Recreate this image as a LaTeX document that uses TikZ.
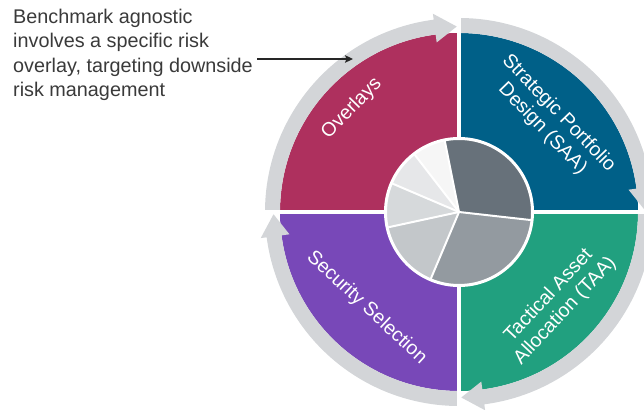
\documentclass[tikz,border=0pt]{standalone}
\usepackage{fontspec}
\setmainfont{Liberation Sans}
\usetikzlibrary{arrows.meta}
\definecolor{ovl}{RGB}{174,48,94}
\definecolor{saa}{RGB}{0,96,136}
\definecolor{taa}{RGB}{33,160,127}
\definecolor{sec}{RGB}{120,72,184}
\definecolor{bandc}{RGB}{211,213,216}
\definecolor{txt}{RGB}{58,58,58}
\definecolor{pA}{RGB}{103,113,122}
\definecolor{pB}{RGB}{147,154,160}
\definecolor{pC}{RGB}{195,199,202}
\definecolor{pD}{RGB}{214,217,219}
\definecolor{pE}{RGB}{230,231,233}
\definecolor{pF}{RGB}{246,246,246}
\newcommand\bandarrow[1]{%
  \pgfmathsetmacro\bs{#1}%
  \pgfmathsetmacro\bb{#1-90+7.5}%
  \pgfmathsetmacro\bt{#1-90+0.7}%
  \fill[bandc] (\bs:194) arc[start angle=\bs, end angle=\bb, radius=194]
    -- (\bb:200) -- (\bt:185.5) -- (\bb:171) -- (\bb:179)
    arc[start angle=\bb, end angle=\bs, radius=179] -- cycle;}
\tikzset{
  qlabel/.style={text=white, font=\fontsize{19.5}{22.5}\selectfont, align=center, inner sep=0},
  sep/.style={white, line width=3.5},
  pieline/.style={white, line width=2}
}
\begin{document}
\begin{tikzpicture}[x=1pt,y=1pt]
\useasboundingbox (0,0) rectangle (644,409);
\begin{scope}[shift={(459,197)}]
  % quadrants
  \fill[ovl] (0,0) -- (180:179) arc[start angle=180, end angle=90, radius=179] -- cycle;
  \fill[saa] (0,0) -- (90:179) arc[start angle=90, end angle=0, radius=179] -- cycle;
  \fill[taa] (0,0) -- (0:179) arc[start angle=0, end angle=-90, radius=179] -- cycle;
  \fill[sec] (0,0) -- (270:179) arc[start angle=270, end angle=180, radius=179] -- cycle;
  % bands with arrowheads
  \bandarrow{180}
  \bandarrow{90}
  \bandarrow{0}
  \bandarrow{270}
  % white separators
  \draw[sep] (0,-205) -- (0,205);
  \draw[sep] (-205,0) -- (205,0);
  % pie
  \fill[pA] (0,0) -- (101.3:73) arc[start angle=101.3, end angle=-6.4, radius=73] -- cycle;
  \fill[pB] (0,0) -- (-6.4:73) arc[start angle=-6.4, end angle=-112.9, radius=73] -- cycle;
  \fill[pC] (0,0) -- (-112.9:73) arc[start angle=-112.9, end angle=-167.8, radius=73] -- cycle;
  \fill[pD] (0,0) -- (192.2:73) arc[start angle=192.2, end angle=156.9, radius=73] -- cycle;
  \fill[pE] (0,0) -- (156.9:73) arc[start angle=156.9, end angle=127.7, radius=73] -- cycle;
  \fill[pF] (0,0) -- (127.7:73) arc[start angle=127.7, end angle=101.3, radius=73] -- cycle;
  \foreach \a in {101.3,-6.4,-112.9,192.2,156.9,127.7}{\draw[pieline] (0,0) -- (\a:73);}
  \draw[white, line width=3] (0,0) circle[radius=73.5];
  % labels
  \node[qlabel, rotate=46] (ovlab) at (136:149) {Overlays};
  \node[qlabel, rotate=-46] (saalab) at (44.8:129) {Strategic Portfolio\\Design (SAA)};
  \node[qlabel, rotate=47] (taalab) at (-43:134) {Tactical Asset\\Allocation (TAA)};
  \node[qlabel, rotate=-43] (seclab) at (226:133) {Security Selection};
\end{scope}
\node[anchor=north west, inner sep=0, align=left, text=txt,
      font=\fontsize{19.8}{24.6}\selectfont] (note) at (13,400.5)
  {Benchmark agnostic\\involves a specific risk\\overlay, targeting downside\\risk management};
\coordinate (a0) at (257,350);
\coordinate (a1) at (353,350);
\draw[-{Stealth[length=8,width=7.5,inset=1.5]}, line width=1.2, color=black!85] (a0) -- (a1);
\end{tikzpicture}
\end{document}
